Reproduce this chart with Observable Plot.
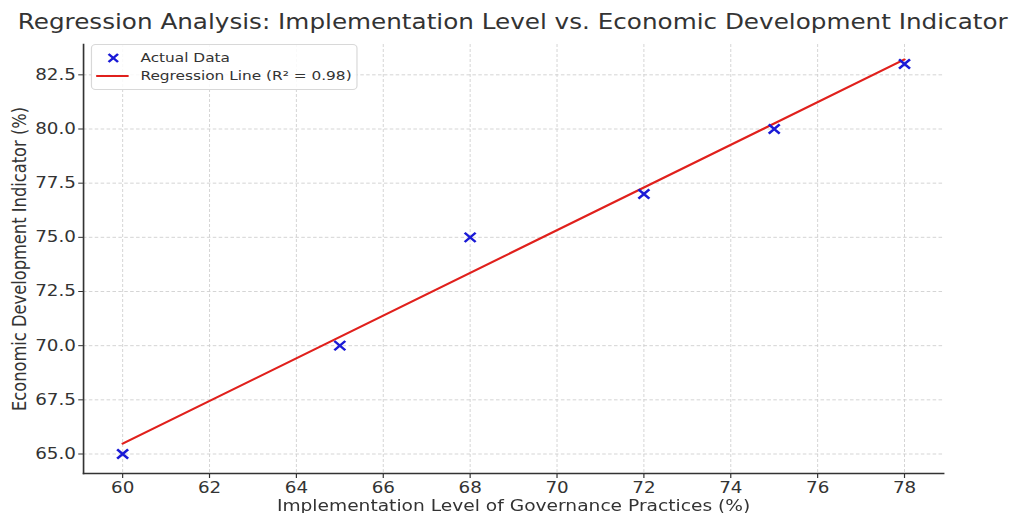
<!DOCTYPE html>
<html>
<head>
<meta charset="utf-8">
<script src="https://cdn.jsdelivr.net/npm/d3@7"></script>
<script src="https://cdn.jsdelivr.net/npm/@observablehq/plot@0.6"></script>
<style>
  html, body { margin: 0; padding: 0; background: #fff; overflow: hidden; }
  #outer { width: 1009px; height: 513px; overflow: hidden; }
  #wrap { position: relative; width: 855px; height: 513px; font-family: "DejaVu Sans", sans-serif; transform: scaleX(1.1801); transform-origin: 0 0; }
  #title { position: absolute; left: 15px; top: 10px; text-align: left; font-size: 20.9px; color: #333; white-space: nowrap; }
  #legend { position: absolute; left: 77px; top: 44px; width: 224px; height: 44px; border: 1px solid #d8d8d8; border-radius: 4px; background: rgba(255,255,255,0.85); font-size: 13px; color: #333; }
  .li { position: absolute; left: 0; height: 18px; }
  .li svg { position: absolute; left: 0; top: 0; }
  .li span { position: absolute; left: 41px; top: 0; line-height: 18px; white-space: nowrap; }
</style>
</head>
<body>
<div id="outer">
<div id="wrap">
  <div id="chart"></div>
  <div id="title">Regression Analysis: Implementation Level vs. Economic Development Indicator</div>
  <div id="legend">
    <div class="li" style="top:4px"><svg width="40" height="18"><path d="M14,5 L22,13 M22,5 L14,13" stroke="#1a1ad6" stroke-width="2.2"/></svg><span>Actual Data</span></div>
    <div class="li" style="top:22px"><svg width="40" height="18"><line x1="3.5" x2="31" y1="9" y2="9" stroke="#e0201c" stroke-width="2"/></svg><span>Regression Line (R² = 0.98)</span></div>
  </div>
</div>
</div>
<script>
const implementation = [60, 65, 68, 72, 75, 78];
const economic = [65, 70, 75, 77, 80, 83];
const regX = [60, 78];
const regY = [65.48, 83.21];
const xTicks = [60, 62, 64, 66, 68, 70, 72, 74, 76, 78];
const yTicks = [65.0, 67.5, 70.0, 72.5, 75.0, 77.5, 80.0, 82.5];

const points = implementation.map((x, i) => ({x, y: economic[i]}));
const reg = regX.map((x, i) => ({x, y: regY[i]}));

const chart = Plot.plot({
  width: 855,
  height: 513,
  marginLeft: 70.3,
  marginRight: 55.9,
  marginTop: 44,
  marginBottom: 40,
  style: {fontFamily: "DejaVu Sans, sans-serif", fontSize: "15px", color: "#333", background: "#fff", overflow: "visible"},
  x: {domain: [59.1, 78.9]},
  y: {domain: [64.1, 83.9]},
  marks: [
    Plot.gridX(xTicks, {stroke: "#cfcfcf", strokeOpacity: 1, strokeDasharray: "3,2", strokeWidth: 0.8}),
    Plot.gridY(yTicks, {stroke: "#cfcfcf", strokeOpacity: 1, strokeDasharray: "3,2", strokeWidth: 0.8}),
    Plot.axisX(xTicks, {tickSize: 5, tickPadding: 3, stroke: "#333", fill: "#333", fontSize: 15.5, label: null, tickFormat: d => String(d)}),
    Plot.axisY(yTicks, {tickSize: 4, tickPadding: 2.5, stroke: "#333", fill: "#333", fontSize: 15.5, label: null, tickFormat: d => d.toFixed(1)}),
    Plot.axisX({ticks: [], label: "Implementation Level of Governance Practices (%)", labelAnchor: "center", labelArrow: "none", labelOffset: 37, fontSize: 15.8, fill: "#333"}),
    Plot.axisY({ticks: [], label: "Economic Development Indicator (%)", labelAnchor: "center", labelArrow: "none", labelOffset: 60, fontSize: 16.3, fill: "#333"}),
    Plot.frame({anchor: "bottom", stroke: "#333", strokeWidth: 1.4}),
    Plot.frame({anchor: "left", stroke: "#333", strokeWidth: 1.4}),
    Plot.line(reg, {x: "x", y: "y", stroke: "#e0201c", strokeWidth: 2}),
    Plot.dot(points, {x: "x", y: "y", symbol: "times", r: 4.3, stroke: "#1a1ad6", strokeWidth: 2.2})
  ]
});
document.getElementById("chart").appendChild(chart);
</script>
</body>
</html>
